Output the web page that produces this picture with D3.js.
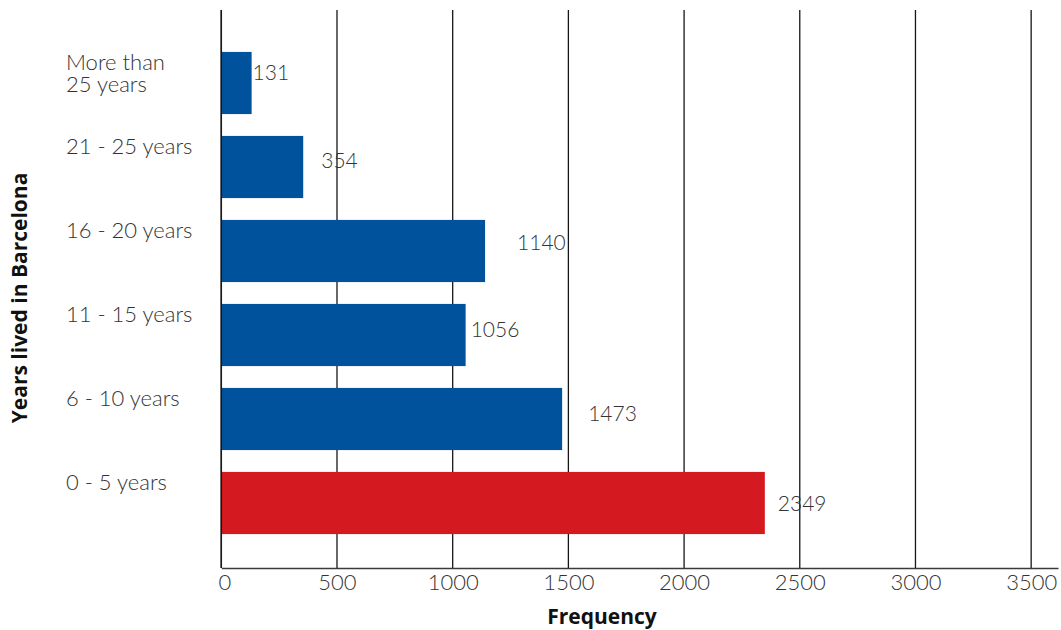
<!DOCTYPE html>
<html>
<head>
<meta charset="utf-8">
<script src="https://cdn.jsdelivr.net/npm/d3@7"></script>
<style>
  html, body { margin: 0; padding: 0; background: #fff; }
  svg { display: block; }
  text { font-family: "Lato", "Open Sans", sans-serif; }
  .title { font-family: "Open Sans", "Lato", sans-serif; }
</style>
</head>
<body>
<svg id="chart" width="1061" height="630"></svg>
<script>
// Years lived in Barcelona, top to bottom
const categories = ["More than 25 years", "21 - 25 years", "16 - 20 years", "11 - 15 years", "6 - 10 years", "0 - 5 years"];
const categoryLines = [["More than", "25 years"], ["21 - 25 years"], ["16 - 20 years"], ["11 - 15 years"], ["6 - 10 years"], ["0 - 5 years"]];
const frequencies = [131, 354, 1140, 1056, 1473, 2349];
const highlighted = ["0 - 5 years"];
const xTicks = [0, 500, 1000, 1500, 2000, 2500, 3000, 3500];

// hand-placed nudges for the value labels (dx from bar end, dy from bar centre)
const valueLabelNudge = [[1, -11], [18, -7], [32, -9], [5, -6], [26, -6], [13, 0]];

const svg = d3.select("#chart");
const plotLeft = 221.3, plotRight = 1058, plotTop = 10, plotBottom = 568;

const x = d3.scaleLinear().domain([0, 3616]).range([plotLeft, plotRight]);
const y = d3.scaleBand().domain(categories).range([41, 545]).paddingInner(0.26).paddingOuter(0.13);

const blue = "#01529c", red = "#d41920", ink = "#161616", textCol = "#333";

// vertical gridlines
svg.append("g").selectAll("line").data(xTicks).join("line")
  .attr("x1", d => x(d)).attr("x2", d => x(d))
  .attr("y1", plotTop).attr("y2", plotBottom)
  .attr("stroke", ink).attr("stroke-width", 1.3);

// bars
svg.append("g").selectAll("rect").data(categories).join("rect")
  .attr("x", x(0))
  .attr("y", d => y(d))
  .attr("width", (d, i) => x(frequencies[i]) - x(0))
  .attr("height", y.bandwidth())
  .attr("fill", d => highlighted.includes(d) ? red : blue);

// x axis
const xAxis = svg.append("g").attr("transform", `translate(0,${plotBottom})`)
  .call(d3.axisBottom(x).tickValues(xTicks).tickSize(0).tickPadding(6).tickFormat(d3.format("d")));
xAxis.select(".domain").attr("stroke", "#3a3a3a").attr("stroke-width", 1.5);
xAxis.selectAll("text")
  .attr("fill", textCol).attr("font-size", 22).attr("font-weight", 300)
  .attr("dy", "0.72em")
  .attr("dx", d => d === 0 ? 3 : 0)
  .style("font-family", "Lato, sans-serif");

// left axis line
svg.append("line").attr("x1", x(0)).attr("x2", x(0)).attr("y1", plotTop).attr("y2", plotBottom)
  .attr("stroke", ink).attr("stroke-width", 1.5);

// category labels
const cat = svg.append("g").selectAll("text").data(categories).join("text")
  .attr("x", 66)
  .attr("y", d => y(d) + 18)
  .attr("fill", textCol).attr("font-size", 22).attr("font-weight", 300);
cat.selectAll("tspan").data((d, i) => categoryLines[i]).join("tspan")
  .attr("x", 66).attr("dy", (d, j) => j === 0 ? 0 : 22).text(d => d);

// value labels
svg.append("g").selectAll("text").data(categories).join("text")
  .attr("x", (d, i) => x(frequencies[i]) + valueLabelNudge[i][0])
  .attr("y", (d, i) => y(d) + y.bandwidth() / 2 + valueLabelNudge[i][1])
  .attr("dy", "0.36em")
  .attr("fill", textCol).attr("font-size", 21).attr("font-weight", 300)
  .text((d, i) => frequencies[i]);

// axis titles
svg.append("text").attr("class", "title")
  .attr("transform", "translate(27,298) rotate(-90)")
  .attr("text-anchor", "middle")
  .attr("font-size", 21).attr("font-weight", 700).attr("fill", "#111")
  .text("Years lived in Barcelona");

svg.append("text").attr("class", "title")
  .attr("x", 602).attr("y", 624)
  .attr("text-anchor", "middle")
  .attr("font-size", 21).attr("font-weight", 700).attr("fill", "#111")
  .text("Frequency");
</script>
</body>
</html>
